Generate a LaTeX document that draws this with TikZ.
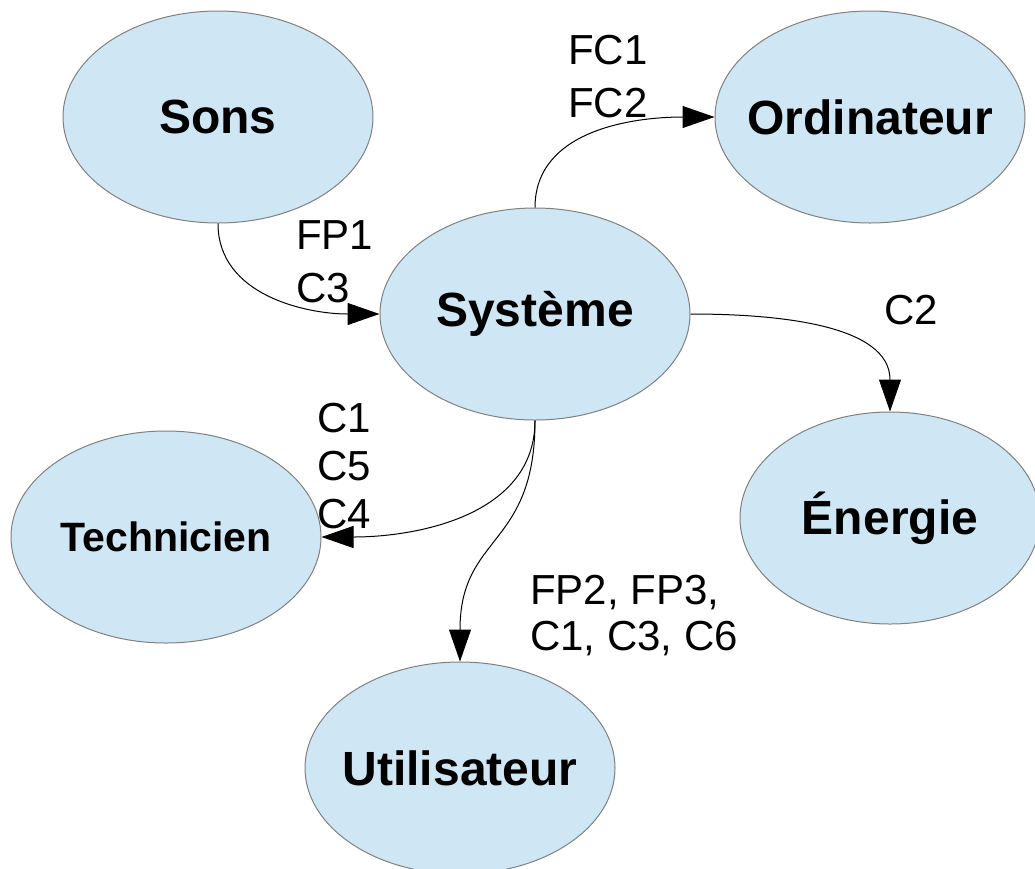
\documentclass[tikz,border=0pt]{standalone}
\usepackage{fontspec}
\setmainfont{Liberation Sans}
\usetikzlibrary{shapes.geometric, arrows.meta}

\definecolor{bleubulle}{HTML}{CFE7F5}

\begin{document}
\begin{tikzpicture}[> = {Triangle[length = 32pt, width = 22pt]}, x = 1pt, y = -1pt,
	bulle/.style = {ellipse, draw = gray, fill = bleubulle, line width = 1pt, inner xsep = -30pt, inner ysep = 0pt,
		minimum width = 310pt, minimum height = 212pt, font = \fontsize{48}{56}\selectfont\bfseries},
	etiquette/.style = {anchor = north west, inner sep = 0pt, align = left}]

	% Fixed frame of the picture
	
	\useasboundingbox (0, 0) rectangle (1035, 868);
	
	% The six bubbles
	
	\node [bulle] (sons) at (218, 117) {Sons};
	\node [bulle] (ordi) at (870, 117) {Ordinateur};
	\node [bulle] (sys) at (535, 314) {Système};
	\node [bulle, font = \fontsize{41}{48}\selectfont\bfseries] (tech) at (166, 537) {Technicien};
	\node [bulle, minimum width = 300pt] (energie) at (890, 518) {Énergie};
	\node [bulle] (util) at (460, 768) {Utilisateur};
	
	% Flows between the bubbles
	
	\begin{scope}[->, line width = 1pt]
	
		\draw (sons.south) to [out = -90, in = 180] (sys.west);
		\draw (sys.north) to [out = 90, in = 180] (ordi.west);
		\draw (sys.east) to [out = 0, in = 90] (energie.north);
		\draw (sys.south) to [out = -90, in = 0] (tech.east);
		\draw (sys.south) to [out = -90, in = 90, looseness = 1.3] (util.north);
		
	\end{scope}
	
	% Labels of the flows
	
	\node [etiquette, font = \fontsize{42}{53}\selectfont] (lfc) at (568, 35) {FC1\\FC2};
	\node [etiquette, font = \fontsize{42}{53}\selectfont] (lfp) at (296, 220) {FP1\\C3};
	\node [etiquette, font = \fontsize{42}{48}\selectfont] (lc) at (317, 403) {C1\\C5\\C4};
	\node [etiquette, font = \fontsize{42}{50}\selectfont] (lc2) at (884, 295) {C2};
	\node [etiquette, font = \fontsize{42}{46}\selectfont] (lfpc) at (530, 575) {FP2, FP3,\\C1, C3, C6};
		
\end{tikzpicture}
\end{document}
